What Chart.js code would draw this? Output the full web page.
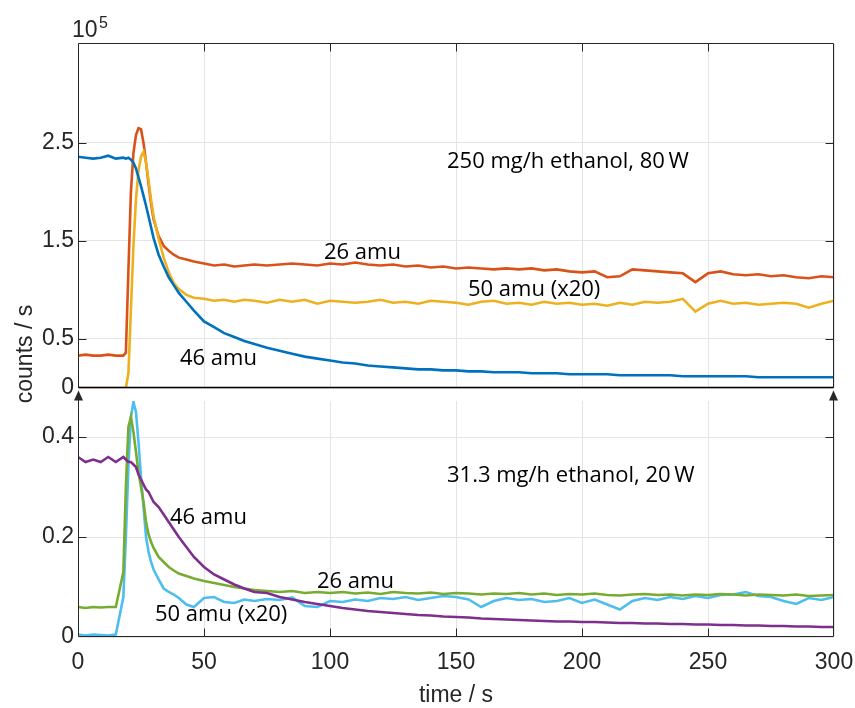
<!DOCTYPE html>
<html>
<head>
<meta charset="utf-8">
<script src="https://cdn.jsdelivr.net/npm/chart.js@4.4.0/dist/chart.umd.min.js"></script>
<style>
  body { margin: 0; background: #fff; }
  #wrap { position: relative; width: 855px; height: 708px; }
  canvas { position: absolute; left: 0; }
</style>
</head>
<body>
<div id="wrap">
  <canvas id="top" width="855" height="400" style="top:0"></canvas>
  <canvas id="bot" width="855" height="418" style="top:290px"></canvas>
</div>
<script>
// time axis (s), shared by every trace
const times = [0,3,6,9,12,15,18,
  19,20,21,22,23,24,25,26,27,28,29,30,
  32,34,36,38,40,
  43,46,50,54,58,62,66,70,
  75,80,85,90,95,100,
  105,110,115,120,125,130,135,140,145,150,
  155,160,165,170,175,180,185,190,195,200,
  205,210,215,220,225,230,235,240,245,250,
  255,260,265,270,275,280,285,290,295,300];

// top panel: 250 mg/h ethanol, 80 W  (counts/s, x1e5)
const top46 = [2.36,2.35,2.34,2.35,2.37,2.34,2.35,
  2.34,2.35,2.33,2.3,2.24,2.15,2.06,1.96,1.86,1.75,1.64,1.53,
  1.36,1.24,1.13,1.05,0.97,
  0.88,0.79,0.68,0.62,0.56,0.52,0.48,0.45,
  0.41,0.38,0.35,0.32,0.3,0.28,
  0.26,0.25,0.23,0.22,0.21,0.2,0.19,0.19,0.18,0.18,
  0.17,0.17,0.16,0.16,0.16,0.15,0.15,0.15,0.14,0.14,
  0.14,0.14,0.13,0.13,0.13,0.13,0.13,0.12,0.12,0.12,
  0.12,0.12,0.12,0.11,0.11,0.11,0.11,0.11,0.11,0.11];
const top26 = [0.33,0.34,0.33,0.33,0.34,0.33,0.33,
  0.36,1.2,2.0,2.4,2.58,2.65,2.64,2.5,2.3,2.08,1.88,1.72,
  1.55,1.45,1.4,1.36,1.33,
  1.31,1.29,1.27,1.25,1.26,1.24,1.25,1.26,
  1.25,1.26,1.27,1.26,1.25,1.27,
  1.26,1.28,1.26,1.25,1.26,1.24,1.25,1.23,1.24,1.22,
  1.23,1.22,1.21,1.22,1.21,1.22,1.2,1.21,1.19,1.18,
  1.19,1.13,1.14,1.21,1.2,1.19,1.18,1.17,1.08,1.17,
  1.19,1.16,1.15,1.16,1.14,1.15,1.13,1.12,1.14,1.13];
const top50 = [0,0,0,0,0,0,0,
  0,0.15,0.8,1.45,1.92,2.22,2.36,2.41,2.3,2.12,1.92,1.75,
  1.52,1.33,1.18,1.07,1.01,
  0.95,0.92,0.91,0.89,0.9,0.88,0.9,0.89,
  0.87,0.9,0.88,0.9,0.86,0.89,
  0.88,0.87,0.88,0.9,0.87,0.88,0.86,0.89,0.88,0.87,
  0.85,0.88,0.89,0.86,0.87,0.85,0.88,0.86,0.87,0.85,
  0.86,0.84,0.87,0.85,0.88,0.87,0.88,0.91,0.78,0.86,
  0.89,0.86,0.87,0.85,0.86,0.87,0.86,0.82,0.86,0.89];

// bottom panel: 31.3 mg/h ethanol, 20 W
const bot46 = [0.36,0.35,0.355,0.35,0.36,0.35,0.36,
  0.355,0.35,0.35,0.345,0.34,0.325,0.315,0.305,0.295,0.29,0.28,0.27,
  0.26,0.245,0.23,0.215,0.2,
  0.18,0.16,0.14,0.125,0.115,0.105,0.097,0.09,
  0.088,0.08,0.075,0.07,0.066,0.062,
  0.058,0.055,0.052,0.05,0.048,0.046,0.044,0.043,0.041,0.04,
  0.039,0.037,0.036,0.035,0.034,0.033,0.032,0.031,0.031,0.03,
  0.03,0.029,0.028,0.028,0.027,0.027,0.026,0.026,0.025,0.025,
  0.024,0.024,0.023,0.023,0.022,0.022,0.021,0.021,0.02,0.02];
const bot26 = [0.06,0.058,0.06,0.059,0.06,0.06,0.13,
  0.3,0.42,0.44,0.41,0.37,0.33,0.3,0.27,0.23,0.205,0.19,0.178,
  0.16,0.15,0.14,0.133,0.127,
  0.122,0.117,0.112,0.108,0.104,0.1,0.097,0.094,
  0.092,0.09,0.092,0.088,0.09,0.088,
  0.09,0.087,0.089,0.086,0.09,0.088,0.087,0.089,0.086,0.088,
  0.087,0.085,0.087,0.086,0.088,0.085,0.087,0.084,0.086,0.085,
  0.087,0.084,0.083,0.085,0.086,0.084,0.085,0.083,0.085,0.084,
  0.086,0.085,0.083,0.085,0.084,0.083,0.085,0.082,0.083,0.084];
const bot50 = [0.005,0.003,0.005,0.004,0.003,0.005,0.08,
  0.2,0.34,0.44,0.47,0.45,0.39,0.32,0.26,0.2,0.17,0.15,0.135,
  0.115,0.097,0.09,0.085,0.078,
  0.065,0.06,0.078,0.08,0.07,0.068,0.075,0.072,
  0.076,0.074,0.079,0.062,0.06,0.072,
  0.07,0.075,0.072,0.078,0.076,0.08,0.074,0.078,0.082,0.08,
  0.075,0.06,0.072,0.078,0.074,0.076,0.07,0.072,0.078,0.068,
  0.075,0.065,0.055,0.072,0.078,0.074,0.08,0.076,0.082,0.078,
  0.084,0.085,0.09,0.082,0.08,0.072,0.066,0.078,0.074,0.08];

const xTicks = [0,50,100,150,200,250,300];
const topTicks = [0,0.5,1.5,2.5];
const botTicks = [0,0.2,0.4];

const AXIS = '#262626';
const GRID = '#e4e4e4';
const TICK_FONT = { family: 'Liberation Sans, Arial, sans-serif', size: 23 };
const NOTE_FONT = '22px "Open Sans", sans-serif';

function pts(vals) { return times.map((t, i) => ({ x: t, y: vals[i] })); }
function line(vals, color) {
  return { data: pts(vals), borderColor: color, borderWidth: 2.6, pointRadius: 0, tension: 0, fill: false };
}

function notes(list) {
  return function (ctx) {
    ctx.fillStyle = '#000';
    ctx.font = NOTE_FONT;
    ctx.textBaseline = 'middle';
    ctx.textAlign = 'left';
    list.forEach(n => ctx.fillText(n[0], n[1], n[2]));
  };
}

function frame(opts) {
  return {
    id: 'frame',
    afterDraw(chart) {
      const { ctx, chartArea: a, scales: { x, y } } = chart;
      const L = Math.round(a.left) + 0.5, R = Math.round(a.right) - 0.5;
      const T = Math.round(a.top) + 0.5, B = Math.round(a.bottom) - 0.5;
      ctx.save();
      ctx.lineWidth = 1;
      ctx.strokeStyle = AXIS;
      ctx.beginPath();
      ctx.moveTo(L, B); ctx.lineTo(L, opts.arrows ? T - 6 : T);
      ctx.moveTo(R, B); ctx.lineTo(R, opts.arrows ? T - 6 : T);
      if (!opts.arrows) { ctx.moveTo(L, T); ctx.lineTo(R, T); }
      ctx.moveTo(L, B); ctx.lineTo(R, B);
      // inward ticks
      opts.yt.forEach(v => {
        const py = Math.round(y.getPixelForValue(v)) + 0.5;
        ctx.moveTo(L, py); ctx.lineTo(L + 8, py);
        ctx.moveTo(R, py); ctx.lineTo(R - 8, py);
      });
      xTicks.slice(1, -1).forEach(v => {
        const px = Math.round(x.getPixelForValue(v)) + 0.5;
        if (opts.arrows) { ctx.moveTo(px, B); ctx.lineTo(px, B - 8); }
        else { ctx.moveTo(px, T); ctx.lineTo(px, T + 8); }
      });
      ctx.stroke();
      if (!opts.arrows) {
        ctx.strokeStyle = '#000';
        ctx.lineWidth = 1.4;
        ctx.beginPath(); ctx.moveTo(L, B); ctx.lineTo(R, B); ctx.stroke();
      }
      if (opts.arrows) {
        ctx.fillStyle = AXIS;
        [L, R].forEach(px => {
          ctx.beginPath();
          ctx.moveTo(px, T - 11); ctx.lineTo(px - 4.5, T - 1); ctx.lineTo(px + 4.5, T - 1);
          ctx.closePath(); ctx.fill();
        });
      }
      opts.extra(ctx, chart);
      ctx.restore();
    }
  };
}

function scalesFor(ymax, yticks, isBottom) {
  return {
    x: {
      type: 'linear', min: 0, max: 300,
      afterBuildTicks: s => { s.ticks = xTicks.map(v => ({ value: v })); },
      afterFit: s => { s.height = isBottom ? 71 : 0; s.paddingLeft = 0; s.paddingRight = 0; },
      grid: { color: GRID, drawTicks: false, lineWidth: 1 },
      border: { display: false },
      ticks: { display: isBottom, font: TICK_FONT, color: AXIS, padding: 12, maxRotation: 0 }
    },
    y: {
      type: 'linear', min: 0, max: ymax,
      afterBuildTicks: s => { s.ticks = yticks.map(v => ({ value: v })); },
      afterFit: s => { s.width = 78; s.paddingTop = 0; s.paddingBottom = 0; },
      grid: { color: GRID, drawTicks: false, lineWidth: 1 },
      border: { display: false },
      ticks: { font: TICK_FONT, color: AXIS, padding: 4, callback: v => String(v) }
    }
  };
}

const common = {
  responsive: false, animation: false, devicePixelRatio: 1,
  plugins: { legend: { display: false }, tooltip: { enabled: false } }
};

new Chart(document.getElementById('top'), {
  type: 'line',
  data: { datasets: [line(top46, '#0072BD'), line(top50, '#EDB120'), line(top26, '#D95319')] },
  options: Object.assign({}, common, {
    layout: { padding: { left: 0, right: 21, top: 43, bottom: 12 } },
    scales: scalesFor(3.52, topTicks, false)
  }),
  plugins: [frame({
    yt: topTicks.slice(1), arrows: false,
    extra: (ctx) => {
      notes([
        ['250 mg/h ethanol, 80\u2009W', 447, 162],
        ['26 amu', 324, 253],
        ['50 amu (x20)', 468, 290],
        ['46 amu', 180, 359]
      ])(ctx);
      ctx.fillStyle = AXIS;
      ctx.textBaseline = 'middle';
      ctx.font = '23px "Liberation Sans", Arial, sans-serif';
      ctx.fillText('10', 72, 31);
      ctx.font = '16px "Liberation Sans", Arial, sans-serif';
      ctx.fillText('5', 99, 24);
    }
  })]
});

new Chart(document.getElementById('bot'), {
  type: 'line',
  data: { datasets: [line(bot46, '#7E2F8E'), line(bot26, '#77AC30'), line(bot50, '#4DBEEE')] },
  options: Object.assign({}, common, {
    layout: { padding: { left: 0, right: 21, top: 111, bottom: 0 } },
    scales: scalesFor(0.472, botTicks, true)
  }),
  plugins: [frame({
    yt: botTicks.slice(1), arrows: true,
    extra: (ctx, chart) => {
      notes([
        ['31.3 mg/h ethanol, 20\u2009W', 447, 476 - 290],
        ['46 amu', 170, 518 - 290],
        ['26 amu', 317, 582 - 290],
        ['50 amu (x20)', 155, 615 - 290]
      ])(ctx);
      ctx.fillStyle = AXIS;
      ctx.font = '23px "Liberation Sans", Arial, sans-serif';
      ctx.textAlign = 'center';
      ctx.textBaseline = 'middle';
      const a = chart.chartArea;
      ctx.fillText('time / s', (a.left + a.right) / 2, 696 - 290);
      ctx.save();
      ctx.translate(26, 354 - 290);
      ctx.rotate(-Math.PI / 2);
      ctx.fillText('counts / s', 0, 0);
      ctx.restore();
    }
  })]
});
</script>
</body>
</html>
